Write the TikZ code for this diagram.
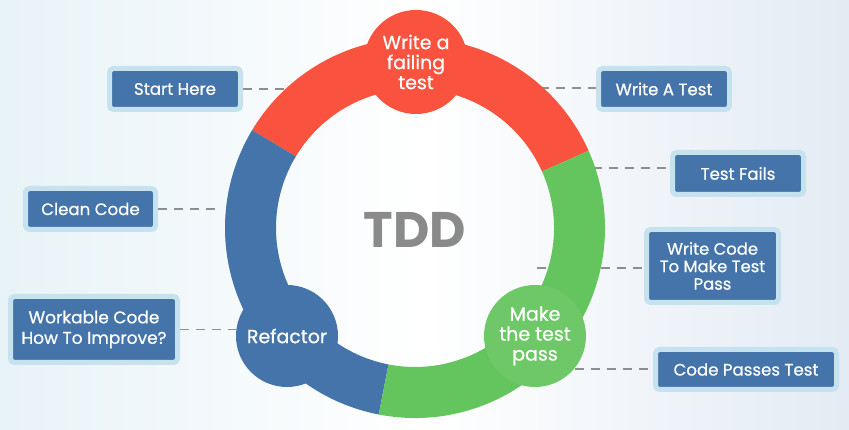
\documentclass[tikz,border=0pt]{standalone}
\usepackage{fontspec}
\setmainfont{Poppins}
\newfontfamily\medfont{Poppins}[FakeBold=0.7]
\usetikzlibrary{positioning}

\definecolor{tddred}{HTML}{F9533F}
\definecolor{tddblue}{HTML}{4474A9}
\definecolor{tddgreen}{HTML}{64C55E}
\definecolor{passgreen}{HTML}{6EC868}
\definecolor{boxedge}{HTML}{C6E2EE}
\definecolor{linkgray}{HTML}{8E8E8E}
\definecolor{tddgray}{HTML}{8A8A8A}
\definecolor{bgleft}{HTML}{E8F3F7}
\definecolor{bgright}{HTML}{E3EBF4}

\tikzset{
  info/.style={draw=boxedge, line width=5pt, fill=tddblue, rounded corners=4pt,
    text=white, align=center, inner sep=0pt, font=\medfont\fontsize{16.6}{20}\selectfont},
  link/.style={draw=linkgray, line width=1.3pt, dash pattern=on 9pt off 7pt},
  phase/.style={circle, inner sep=0pt, text=white, align=center,
    font=\medfont\fontsize{19}{20}\selectfont}
}

\begin{document}
\begin{tikzpicture}[x=1pt,y=1pt]
\shade[left color=bgleft, right color=bgright, middle color=white] (0,0) rectangle (849,430);
\useasboundingbox (0,0) rectangle (849,430);

% boxes
\node (start) [info, minimum width=131, minimum height=41] at (175,341) {Start Here};
\node (clean) [info, minimum width=130, minimum height=41] at (90.5,221) {Clean Code};
\node (workable) [info, minimum width=167, minimum height=66, font=\medfont\fontsize{17}{20.5}\selectfont] at (94,100.5) {Workable Code\\How To Improve?};
\node (writetest) [info, minimum width=131, minimum height=41] at (664,341) {Write A Test};
\node (fails) [info, minimum width=131, minimum height=42] at (738,256.5) {Test Fails};
\node (writecode) [info, minimum width=132, minimum height=73, font=\medfont\fontsize{16.4}{17.5}\selectfont] at (712.5,164) {Write Code\\To Make Test\\Pass};
\node (passes) [info, minimum width=181, minimum height=40] at (746,60.5) {Code Passes Test};

% dashed links
\coordinate (startend) at (290,341);
\coordinate (cleanend) at (222,221);
\coordinate (workend) at (236,101);
\coordinate (testend) at (540,342);
\coordinate (failend) at (593,262);
\coordinate (codeend) at (537,162);
\coordinate (passend) at (575,61);
\draw[link] (start.east) -- (start.east -| startend);
\draw[link] (clean.east) -- (clean.east -| cleanend);
\draw[link] (workable.east) -- (workable.east -| workend);
\draw[link] (testend) -- (testend -| writetest.west);
\draw[link] (failend) -- (failend -| fails.west);
\draw[link] (codeend) -- (codeend -| writecode.west);
\draw[link] (passend) -- (passend -| passes.west);

% ring
\coordinate (c) at (415,202);
\foreach \a/\b/\col in {24/149/tddred, 149/259/tddblue, 259/384/tddgreen}
  \fill[\col] ([shift={(\a:190)}]c) arc[start angle=\a, end angle=\b, radius=190]
    -- ([shift={(\b:139)}]c) arc[start angle=\b, end angle=\a, radius=139] -- cycle;

\node (failing) [phase, fill=tddred, minimum size=104] at (416,368) {Write a\\failing\\test};
\node (pass) [phase, fill=passgreen, minimum size=102] at (535,94) {Make\\the test\\pass};
\node (refactor) [phase, fill=tddblue, minimum size=102] at (287,94) {Refactor};

\node (tdd) [text=tddgray, font=\fontsize{50}{50}\selectfont\bfseries] at (415,200) {TDD};
\end{tikzpicture}
\end{document}
